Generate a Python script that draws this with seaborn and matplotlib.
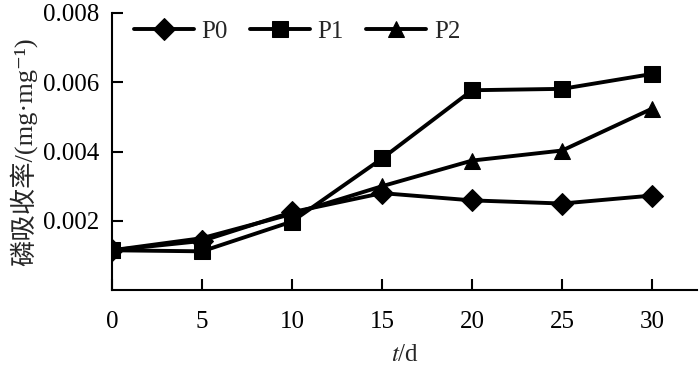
import seaborn as sns
import pandas as pd
import matplotlib.pyplot as plt

days = [0, 5, 10, 15, 20, 25, 30]
p0 = [0.00115, 0.00142, 0.00225, 0.0028, 0.00259, 0.0025, 0.00273]
p1 = [0.00115, 0.00112, 0.00198, 0.0038, 0.00577, 0.00581, 0.00624]
p2 = [0.00115, 0.0015, 0.0022, 0.0030, 0.00374, 0.00403, 0.00524]
series = ["P0", "P1", "P2"]

df = pd.DataFrame({
    "t": days * 3,
    "rate": p0 + p1 + p2,
    "group": [s for s in series for _ in days],
})

sns.set_style("ticks")
plt.rcParams["font.family"] = ["Liberation Serif", "Noto Sans CJK SC", "DejaVu Sans"]
plt.rcParams["mathtext.fontset"] = "stix"

fig = plt.figure(figsize=(7, 3.71), dpi=100)
ax = fig.add_axes([0.16, 0.218, 0.836, 0.747])

sns.lineplot(data=df, x="t", y="rate", hue="group", style="group",
             palette=["black"] * 3, markers={"P0": "D", "P1": "s", "P2": "^"},
             dashes=False, linewidth=2.8, markersize=11, markeredgecolor="black",
             ax=ax)

ax.set_xlim(0, 32.5)
ax.set_ylim(0, 0.008)
ax.set_xticks([0, 5, 10, 15, 20, 25, 30])
ax.set_yticks([0.002, 0.004, 0.006, 0.008])
ax.set_yticklabels(["0.002", "0.004", "0.006", "0.008"])
ax.tick_params(direction="in", length=8, width=1.5, labelsize=18, colors="black")
ax.tick_params(axis="x", pad=15)
ax.tick_params(axis="y", pad=9)
for side in ["top", "right"]:
    ax.spines[side].set_visible(False)
for side in ["left", "bottom"]:
    ax.spines[side].set_linewidth(1.5)
    ax.spines[side].set_color("black")

ax.set_xlabel("$t$/d", fontsize=18, labelpad=8)
ax.set_ylabel("磷吸收率/(mg·mg⁻¹)", fontsize=19, labelpad=4)

ax.legend(ncol=3, loc="upper left", bbox_to_anchor=(0.02, 1.01), frameon=False,
          fontsize=18, handlelength=2.4, handletextpad=0.3, columnspacing=0.9,
          borderaxespad=0)

plt.savefig("out.png", dpi=100)
